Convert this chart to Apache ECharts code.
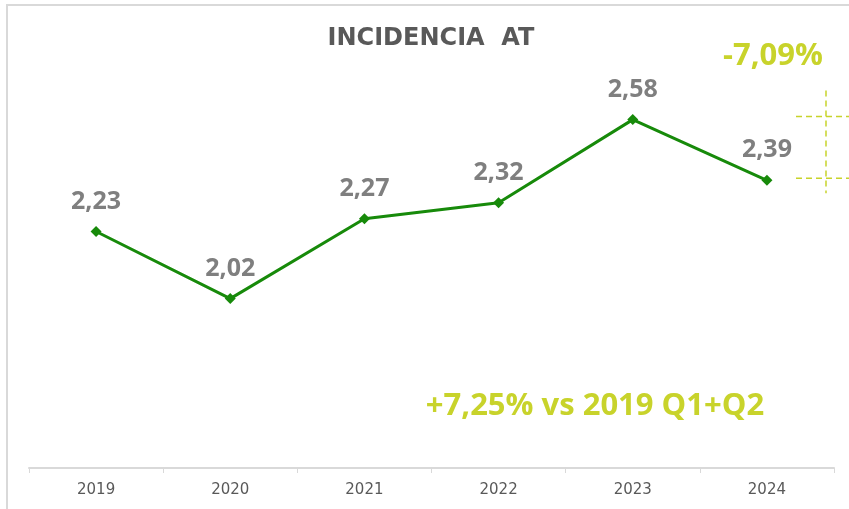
<!DOCTYPE html>
<html>
<head>
<meta charset="utf-8">
<script src="https://cdn.jsdelivr.net/npm/echarts@6/dist/echarts.min.js"></script>
<style>
  html, body { margin: 0; padding: 0; background: #fff; }
  #chart { width: 849px; height: 509px; }
</style>
</head>
<body>
<div id="chart"></div>
<script>
// datos
const years = ['2019', '2020', '2021', '2022', '2023', '2024'];
const incidencia = [2.23, 2.02, 2.27, 2.32, 2.58, 2.39];
const varUltimo = '-7,09%';
const varVs2019 = '+7,25% vs 2019 Q1+Q2';

const green = '#178a0a';
const lime = '#c8d32b';

const chart = echarts.init(document.getElementById('chart'));

chart.setOption({
  animation: false,
  grid: { left: 29, right: 15, top: 52.5, bottom: 41 },
  xAxis: {
    type: 'category',
    data: years,
    boundaryGap: true,
    axisLine: { lineStyle: { color: '#d9d9d9', width: 2 } },
    axisTick: { show: true, length: 5, lineStyle: { color: '#d9d9d9' } },
    axisLabel: {
      color: '#595959',
      fontFamily: 'DejaVu Sans',
      fontSize: 15,
      margin: 15
    }
  },
  yAxis: {
    type: 'value',
    min: 1.49,
    max: 2.79,
    show: false,
    splitLine: { show: false }
  },
  series: [{
    type: 'line',
    data: incidencia,
    symbol: 'diamond',
    symbolSize: 11,
    lineStyle: { color: green, width: 3 },
    itemStyle: { color: green },
    label: {
      show: true,
      position: 'top',
      distance: 12,
      color: '#7f7f7f',
      fontFamily: 'Open Sans',
      fontWeight: 'bold',
      fontSize: 25,
      formatter: p => p.value.toFixed(2).replace('.', ',')
    }
  }]
});

// anotaciones: líneas de nivel de 2023 y 2024
const yTop = chart.convertToPixel({ yAxisIndex: 0 }, incidencia[4]) - 3;
const yBot = chart.convertToPixel({ yAxisIndex: 0 }, incidencia[5]) - 2;
const dash = { stroke: lime, lineWidth: 1.5, lineDash: [6, 4] };

chart.setOption({
  graphic: [
    {
      type: 'rect', silent: true,
      shape: { x: 7, y: 5, width: 900, height: 600 },
      style: { fill: null, stroke: '#d9d9d9', lineWidth: 2 }
    },
    {
      type: 'text', x: 431, y: 27,
      style: {
        text: 'INCIDENCIA  AT', textAlign: 'center', fill: '#595959',
        font: 'bold 24px "DejaVu Sans"'
      }
    },
    {
      type: 'text', x: 773, y: 41,
      style: {
        text: varUltimo, textAlign: 'center', fill: lime,
        font: 'bold 31px "Open Sans"'
      }
    },
    {
      type: 'text', x: 595, y: 391,
      style: {
        text: varVs2019, textAlign: 'center', fill: lime,
        font: 'bold 31px "Open Sans"'
      }
    },
    { type: 'line', shape: { x1: 796, y1: yTop, x2: 849, y2: yTop }, style: dash },
    { type: 'line', shape: { x1: 796, y1: yBot, x2: 849, y2: yBot }, style: dash },
    { type: 'line', shape: { x1: 826, y1: yTop - 26, x2: 826, y2: yBot + 15 }, style: dash }
  ]
});
</script>
</body>
</html>
